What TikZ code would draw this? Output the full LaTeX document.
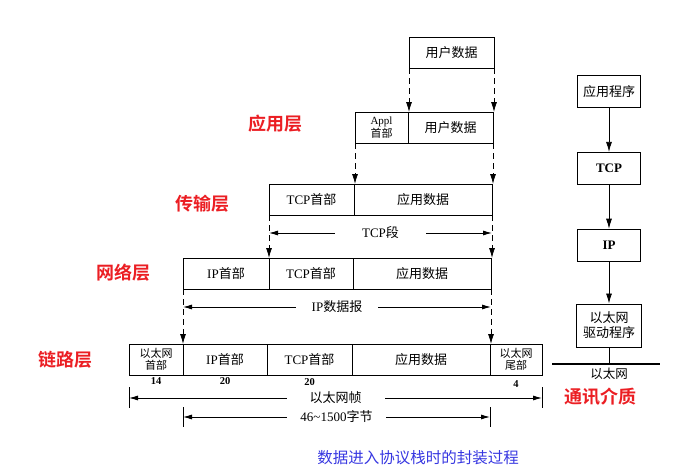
\documentclass[tikz,border=0pt]{standalone}
\usepackage{fontspec}
\setmainfont{Liberation Serif}
\newfontfamily\zh{Noto Sans CJK SC}[BoldFont={Noto Sans CJK SC Bold}]
\usetikzlibrary{positioning,arrows.meta,calc}
\definecolor{LayerRed}{RGB}{235,30,35}
\definecolor{CaptionBlue}{RGB}{55,55,225}

\begin{document}
\begin{tikzpicture}[x=1pt, y=-1pt,
    cell/.style={draw, line width=0.8pt, minimum height=31pt, inner sep=1pt, outer sep=0pt,
                 align=center, font=\fontsize{13}{14}\selectfont},
    tinycell/.style={cell, font=\fontsize{11}{12.5}\selectfont},
    stackbox/.style={draw, line width=0.8pt, minimum width=63pt, minimum height=32pt, inner sep=1pt,
                     align=center, font=\zh\fontsize{13}{15}\selectfont},
    layername/.style={text=LayerRed, font=\zh\bfseries\fontsize{18}{20}\selectfont},
    godown/.style={dash pattern=on 6pt off 4pt, line width=0.8pt, -{Latex[length=10pt,width=6pt]}},
    dimline/.style={line width=0.8pt, {Latex[length=9pt,width=5pt]}-{Latex[length=9pt,width=5pt]}},
    gap/.style={fill=white, inner ysep=1pt, inner xsep=#1, font=\fontsize{13}{14}\selectfont},
    bytes/.style={font=\bfseries\fontsize{10.5}{12}\selectfont, inner sep=1pt},
]
    \useasboundingbox (0,0) rectangle (686,471);

    \node[cell, anchor=north west, minimum width=85pt] (u0) at (409,37) {\zh 用户数据};

    \node[tinycell, anchor=north west, minimum width=53pt] (a1) at (355,112) {Appl\\{\zh 首部}};
    \node[cell, right=0pt of a1, minimum width=85pt] (u1) {\zh 用户数据};

    \node[cell, anchor=north west, minimum width=85pt] (t2) at (269,184) {TCP{\zh 首部}};
    \node[cell, right=0pt of t2, minimum width=138pt] (d2) {\zh 应用数据};

    \node[cell, anchor=north west, minimum width=86pt] (i3) at (183,258) {IP{\zh 首部}};
    \node[cell, right=0pt of i3, minimum width=84pt] (t3) {TCP{\zh 首部}};
    \node[cell, right=0pt of t3, minimum width=138pt] (d3) {\zh 应用数据};

    \node[tinycell, anchor=north west, minimum width=54pt] (e4) at (129,344) {{\zh 以太网}\\{\zh 首部}};
    \node[cell, right=0pt of e4, minimum width=84pt] (i4) {IP{\zh 首部}};
    \node[cell, right=0pt of i4, minimum width=85pt] (t4) {TCP{\zh 首部}};
    \node[cell, right=0pt of t4, minimum width=138pt] (d4) {\zh 应用数据};
    \node[tinycell, right=0pt of d4, minimum width=52pt] (f4) {{\zh 以太网}\\{\zh 尾部}};

    \node[bytes, below=1pt of e4] (n14) {14};
    \node[bytes, below=1pt of i4] (n20a) {20};
    \node[bytes, below=2pt of t4] (n20b) {20};
    \node[bytes, below=4pt of f4] (n4) {4};

    \draw[godown] (u0.south west) -- (u0.south west |- u1.north);
    \draw[godown] (u0.south east) -- (u0.south east |- u1.north);
    \draw[godown] (a1.south west) -- (a1.south west |- t2.north);
    \draw[godown] (u1.south east) -- (u1.south east |- d2.north);
    \draw[godown] (t2.south west) -- (t2.south west |- i3.north);
    \draw[godown] (d2.south east) -- (d2.south east |- d3.north);
    \draw[godown] (i3.south west) -- (i3.south west |- e4.north);
    \draw[godown] (d3.south east) -- (d3.south east |- d4.north);

    \coordinate (segL) at (t2.south west |- 0,233);
    \coordinate (segR) at (d2.south east |- 0,233);
    \draw[dimline] (segL) -- (segR) node[midway, gap=27pt] (seg) {TCP{\zh 段}};

    \coordinate (dgL) at (i3.south west |- 0,307);
    \coordinate (dgR) at (d3.south east |- 0,307);
    \draw[dimline] (dgL) -- (dgR) node[midway, gap=16pt] (dg) {IP{\zh 数据报}};

    \coordinate (frL) at (e4.south west |- 0,398);
    \coordinate (frR) at (f4.south east |- 0,398);
    \draw[dimline] (frL) -- (frR) node[midway, gap=23pt] (fr) {\zh 以太网帧};
    \draw[line width=0.8pt] ([yshift=11pt]frL) -- ([yshift=-10pt]frL);
    \draw[line width=0.8pt] ([yshift=11pt]frR) -- ([yshift=-10pt]frR);

    \coordinate (plL) at (i4.south west |- 0,417);
    \coordinate (plR) at (d4.south east |- 0,417);
    \draw[dimline] (plL) -- (plR) node[midway, gap=13pt] (pl) {46\textasciitilde1500{\zh 字节}};
    \draw[line width=0.8pt] ([yshift=10pt]plL) -- ([yshift=-10pt]plL);
    \draw[line width=0.8pt] ([yshift=10pt]plR) -- ([yshift=-10pt]plR);

    \node[layername] (appl) at (275,124) {应用层};
    \node[layername] (trans) at (202,204) {传输层};
    \node[layername] (net) at (123,273) {网络层};
    \node[layername] (link) at (65,360) {链路层};

    \node[stackbox] (app) at (609,91.5) {应用程序};
    \node[stackbox, below=44pt of app, font=\bfseries\fontsize{13}{15}\selectfont] (tcp) {TCP};
    \node[stackbox, below=44pt of tcp, font=\bfseries\fontsize{13}{15}\selectfont] (ip) {IP};
    \node[stackbox, below=42pt of ip, minimum width=65pt, minimum height=43pt] (drv) {以太网\\驱动程序};
    \draw[line width=0.8pt, -{Latex[length=10pt,width=6pt]}] (app) -- (tcp);
    \draw[line width=0.8pt, -{Latex[length=10pt,width=6pt]}] (tcp) -- (ip);
    \draw[line width=0.8pt, -{Latex[length=10pt,width=6pt]}] (ip) -- (drv);

    \coordinate (busL) at (552,364);
    \coordinate (busR) at (660,364);
    \coordinate (busM) at (drv.south |- busL);
    \draw[line width=2.2pt] (busL) -- (busR);
    \draw[line width=0.8pt] (drv.south) -- (busM);
    \node[below=0pt of busM, font=\zh\fontsize{12.5}{14}\selectfont] (eth) {以太网};
    \node[layername] (medium) at (600,397) {通讯介质};

    \node[text=CaptionBlue, font=\zh\fontsize{15.5}{17}\selectfont] (cap) at (418,458) {数据进入协议栈时的封装过程};
\end{tikzpicture}
\end{document}
